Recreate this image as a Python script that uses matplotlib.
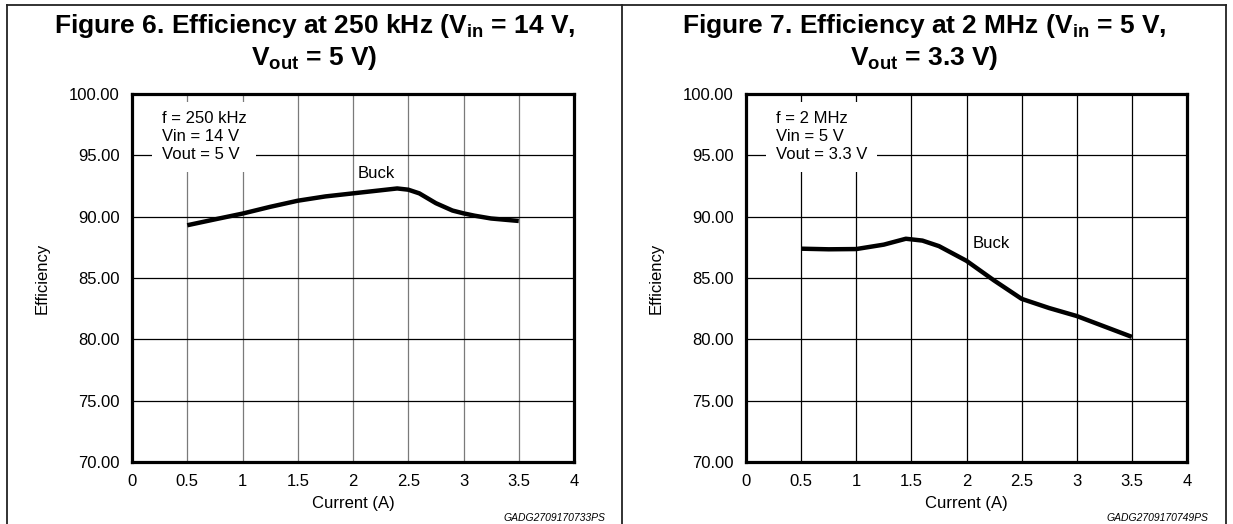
import matplotlib
matplotlib.use("Agg")
import matplotlib.pyplot as plt
from matplotlib.lines import Line2D

TFONT = "Liberation Sans"
plt.rcParams['font.family'] = ['Liberation Sans', 'DejaVu Sans']
plt.rcParams['mathtext.fontset'] = 'custom'
plt.rcParams['mathtext.bf'] = TFONT + ':bold'
plt.rcParams['mathtext.rm'] = TFONT + ':bold'

# ---- data ----
x_ticks = [0, 0.5, 1, 1.5, 2, 2.5, 3, 3.5, 4]
y_ticks = [70, 75, 80, 85, 90, 95, 100]

current_250k = [0.5, 0.75, 1.0, 1.25, 1.5, 1.75, 2.0, 2.25, 2.4, 2.5, 2.6, 2.75, 2.9, 3.0, 3.1, 3.25, 3.5]
eff_250k = [89.3, 89.78, 90.25, 90.8, 91.3, 91.65, 91.9, 92.15, 92.3, 92.2, 91.9, 91.1, 90.5, 90.27, 90.08, 89.85, 89.65]

current_2m = [0.5, 0.75, 1.0, 1.25, 1.45, 1.6, 1.75, 2.0, 2.25, 2.5, 2.6, 2.75, 3.0, 3.25, 3.5]
eff_2m = [87.39, 87.34, 87.36, 87.72, 88.2, 88.05, 87.6, 86.4, 84.8, 83.3, 83.0, 82.55, 81.9, 81.05, 80.2]

titles = [r"Figure 6. Efficiency at 250 kHz (V$_{\mathbf{in}}$ = 14 V," "\n" r"V$_{\mathbf{out}}$ = 5 V)",
          r"Figure 7. Efficiency at 2 MHz (V$_{\mathbf{in}}$ = 5 V," "\n" r"V$_{\mathbf{out}}$ = 3.3 V)"]
notes = ["f = 250 kHz\nVin = 14 V\nVout = 5 V", "f = 2 MHz\nVin = 5 V\nVout = 3.3 V"]
codes = ["GADG2709170733PS", "GADG2709170749PS"]
buck_pos = [(2.21, 93.5), (2.22, 87.85)]
series = [(current_250k, eff_250k), (current_2m, eff_2m)]
vgrid_colors = ["#7a7a7a", "#000000"]

W, H = 1233, 524
fig = plt.figure(figsize=(W / 100, H / 100), dpi=100)

def fx(px):
    return px / W

def fy(py):
    return 1 - py / H

# outer frame
for (x0, y0, x1, y1) in [(7, 5, 1226, 5), (7, 5, 7, 524), (622, 5, 622, 524), (1226, 5, 1226, 524)]:
    fig.add_artist(Line2D([fx(x0), fx(x1)], [fy(y0), fy(y1)], color="#222222", lw=1.3))

axes_px = [(132, 574), (746, 1187)]
centers = [(7 + 622) / 2, (622 + 1226) / 2]
code_right = [605, 1208]

for i in range(2):
    l, r = axes_px[i]
    ax = fig.add_axes([fx(l), fy(462), fx(r - l), (462 - 94) / H])
    xs, ys = series[i]
    ax.plot(xs, ys, color="black", lw=3.2, solid_capstyle="butt", solid_joinstyle="round", zorder=4)
    ax.set_xlim(0, 4)
    ax.set_ylim(70, 100)
    ax.set_xticks(x_ticks)
    ax.set_xticklabels([f"{v:g}" for v in x_ticks])
    ax.set_yticks(y_ticks)
    ax.set_yticklabels([f"{v:.2f}" for v in y_ticks])
    ax.tick_params(length=0, labelsize=12, pad=9)
    for v in x_ticks[1:-1]:
        ax.axvline(v, color=vgrid_colors[i], lw=0.9, zorder=1)
    for v in y_ticks[1:-1]:
        ax.axhline(v, color="black", lw=0.9, zorder=1)
    for s in ax.spines.values():
        s.set_linewidth(2.3)
    ax.set_xlabel("Current (A)", fontsize=12, labelpad=5)
    ax.set_ylabel("Efficiency", fontsize=12, labelpad=14)
    ax.text(0.27, 98.6, notes[i], fontsize=12, va="top", ha="left", linespacing=1.25,
            bbox=dict(facecolor="white", edgecolor="none", pad=7), zorder=3)
    ax.text(buck_pos[i][0], buck_pos[i][1], "Buck", fontsize=12, ha="center", va="center", zorder=3)
    fig.text(fx(centers[i]), fy(42), titles[i], ha="center", va="center", fontsize=19,
             fontweight="bold", family=TFONT, linespacing=1.15)
    fig.text(fx(code_right[i]), fy(518), codes[i], ha="right", va="center", fontsize=7.5, style="italic")

fig.savefig("out.png", dpi=100)
